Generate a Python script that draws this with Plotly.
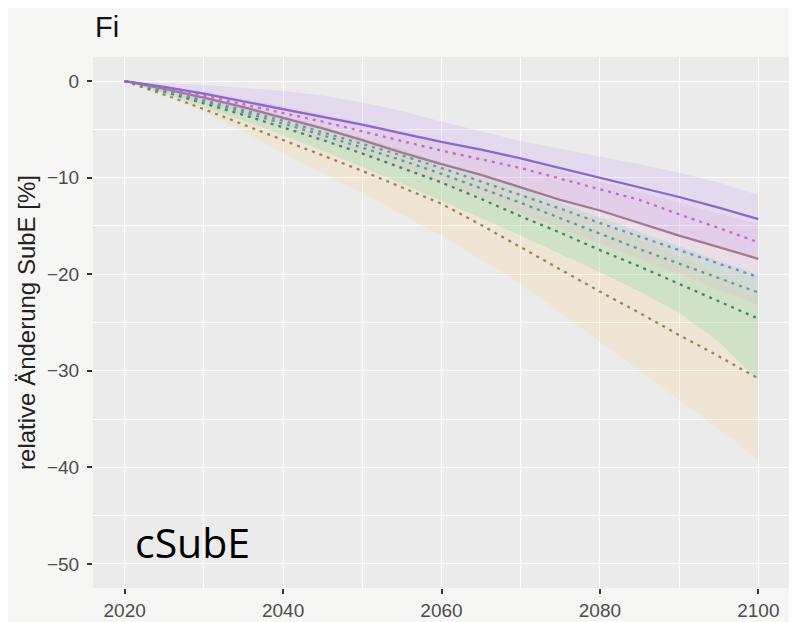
import plotly.graph_objects as go

years = [2020, 2025, 2030, 2035, 2040, 2045, 2050, 2055, 2060, 2065, 2070, 2075, 2080, 2085, 2090, 2095, 2100]

# central lines
purple_solid = [0, -0.6, -1.3, -2.1, -2.9, -3.7, -4.5, -5.4, -6.3, -7.1, -8.0, -9.0, -10.0, -11.0, -12.0, -13.1, -14.3]
pink_dot = [0, -0.7, -1.5, -2.4, -3.3, -4.2, -5.2, -6.2, -7.2, -8.1, -9.0, -10.1, -11.2, -12.3, -13.8, -15.2, -16.7]
mauve_solid = [0, -0.8, -1.7, -2.7, -3.8, -4.9, -6.1, -7.4, -8.6, -9.7, -11.0, -12.3, -13.4, -14.7, -16.0, -17.2, -18.4]
blue_dot = [0, -0.9, -2.0, -3.0, -4.1, -5.3, -6.5, -7.7, -9.0, -10.4, -11.8, -13.2, -14.7, -16.1, -17.5, -18.9, -20.3]
teal_dot = [0, -1.0, -2.1, -3.2, -4.4, -5.6, -6.9, -8.2, -9.6, -11.1, -12.6, -14.2, -15.8, -17.4, -18.9, -20.4, -21.9]
green_dot = [0, -1.1, -2.3, -3.5, -4.8, -6.1, -7.5, -9.0, -10.5, -12.2, -14.0, -15.7, -17.5, -19.2, -21.0, -22.8, -24.6]
yellow_dot = [0, -1.4, -2.9, -4.5, -6.1, -7.7, -9.3, -11.0, -12.7, -14.9, -17.2, -19.5, -21.8, -24.0, -26.3, -28.5, -30.8]

# ribbons
yellow_lo = [0, -1.5, -3.2, -5.2, -7.5, -9.5, -11.6, -13.8, -16.0, -18.5, -21.0, -24.0, -27.0, -30.0, -33.0, -36.0, -39.2]
yellow_hi = [0, -0.8, -1.7, -2.7, -3.8, -4.9, -6.1, -7.4, -8.7, -10.1, -11.6, -13.2, -14.8, -16.5, -18.2, -20.0, -21.8]
green_lo = [0, -1.3, -2.7, -4.1, -5.6, -7.2, -8.9, -10.6, -12.4, -14.2, -16.0, -17.9, -19.8, -21.8, -24.0, -27.0, -31.0]
green_hi = [0, -0.8, -1.7, -2.6, -3.6, -4.7, -5.9, -7.1, -8.4, -9.7, -11.1, -12.6, -14.1, -15.6, -17.1, -18.6, -20.0]
pink_lo = [0, -1.1, -2.3, -3.5, -4.8, -6.1, -7.5, -9.0, -10.5, -12.0, -13.6, -15.2, -16.8, -18.4, -20.0, -21.6, -23.2]
pink_hi = [0, -0.5, -1.1, -1.8, -2.6, -3.4, -4.3, -5.2, -6.2, -7.2, -8.2, -9.3, -10.4, -11.5, -12.6, -13.7, -14.8]
purple_lo = [0, -0.9, -1.9, -2.9, -3.9, -5.0, -6.1, -7.3, -8.5, -9.7, -10.9, -12.1, -13.4, -14.7, -16.0, -17.2, -18.5]
purple_hi = [0, -0.2, -0.4, -0.7, -1.0, -1.5, -2.2, -3.1, -4.2, -5.2, -6.2, -7.0, -7.8, -8.6, -9.5, -10.5, -11.8]

x_ticks = [2020, 2040, 2060, 2080, 2100]
y_ticks = [0, -10, -20, -30, -40, -50]

fig = go.Figure()

ribbons = [
    (yellow_lo, yellow_hi, "rgba(255,210,130,0.22)"),
    (green_lo, green_hi, "rgba(120,220,160,0.26)"),
    (pink_lo, pink_hi, "rgba(235,160,215,0.18)"),
    (purple_lo, purple_hi, "rgba(195,150,245,0.20)"),
]
for lo, hi, col in ribbons:
    fig.add_trace(go.Scatter(x=years, y=hi, mode="lines", line=dict(width=0),
                             hoverinfo="skip", showlegend=False))
    fig.add_trace(go.Scatter(x=years, y=lo, mode="lines", line=dict(width=0),
                             fill="tonexty", fillcolor=col, hoverinfo="skip",
                             showlegend=False))

lines = [
    (yellow_dot, "#948858", "3px,5px"),
    (green_dot, "#4F7F70", "3px,5px"),
    (teal_dot, "#4AA5A0", "3px,5px"),
    (blue_dot, "#6F8FC8", "3px,5px"),
    (mauve_solid, "#A47A92", "solid"),
    (pink_dot, "#C46CC6", "3px,5px"),
    (purple_solid, "#8A68CC", "solid"),
]
for ys, col, dash in lines:
    fig.add_trace(go.Scatter(x=years, y=ys, mode="lines",
                             line=dict(color=col, width=2.3, dash=dash),
                             showlegend=False))

# the page body has an 8px default margin, so the figure is sized to fit
fig.update_layout(
    width=789, height=614,
    margin=dict(l=85, r=7, t=49, b=34),
    paper_bgcolor="#F6F6F5",
    plot_bgcolor="#EBEBEB",
    font=dict(family="Liberation Sans, Arial, sans-serif", color="#4D4D4D"),
    showlegend=False,
)
fig.update_xaxes(
    range=[2016, 2104], tickvals=x_ticks, ticktext=[str(v) for v in x_ticks],
    showgrid=True, gridcolor="#FFFFFF", gridwidth=1.4,
    minor=dict(dtick=10, tick0=2010, showgrid=True, gridcolor="#FFFFFF", gridwidth=0.7),
    ticks="outside", ticklen=5, tickwidth=1.5, tickcolor="#333333",
    tickfont=dict(size=19, color="#4D4D4D"), zeroline=False, showline=False,
    automargin=False,
)
fig.update_yaxes(
    range=[-52.5, 2.5], tickvals=y_ticks, ticktext=[str(v).replace("-", "\u2212") for v in y_ticks],
    showgrid=True, gridcolor="#FFFFFF", gridwidth=1.4,
    minor=dict(dtick=5, tick0=0, showgrid=True, gridcolor="#FFFFFF", gridwidth=0.7),
    ticks="outside", ticklen=5, tickwidth=1.5, tickcolor="#333333", ticklabelstandoff=4,
    tickfont=dict(size=19, color="#4D4D4D"), zeroline=False, showline=False,
    title=dict(text="relative Änderung SubE [%]", font=dict(size=24, color="#222222"), standoff=4),
    automargin=False,
)

fig.add_annotation(text="Fi", xref="paper", yref="paper", x=0, y=1, xanchor="left", yanchor="bottom",
                   yshift=12, showarrow=False, font=dict(size=29, color="#111111"))
fig.add_annotation(text="cSubE", xref="paper", yref="paper", x=0.058, y=0.03, xanchor="left", yanchor="bottom",
                   showarrow=False, font=dict(family="Open Sans, Noto Sans, sans-serif", size=41, color="#000000"))
fig.add_shape(type="line", xref="paper", yref="paper", x0=-0.134, x1=-0.127, y0=0.05, y1=0.05,
              line=dict(color="#3CB44B", width=1))

fig.write_html("out.html")
